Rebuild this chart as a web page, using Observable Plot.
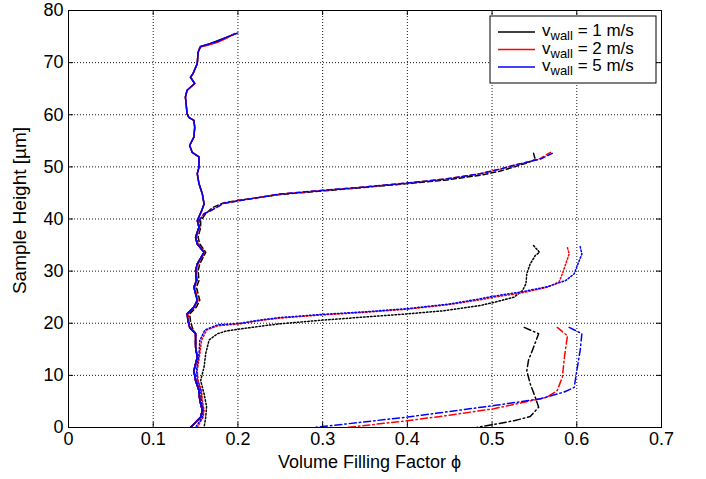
<!DOCTYPE html>
<html><head><meta charset="utf-8">
<script src="https://cdn.jsdelivr.net/npm/d3@7"></script>
<script src="https://cdn.jsdelivr.net/npm/@observablehq/plot@0.6"></script>
<style>
body{margin:0;background:#fff;}
#chart{width:706px;height:479px;}
</style></head><body><div id="chart"></div>
<script>
const xTicks = [0, 0.1, 0.2, 0.3, 0.4, 0.5, 0.6, 0.7];
const yTicks = [0, 10, 20, 30, 40, 50, 60, 70, 80];
const speeds = ["1", "2", "5"];
const colors = ["#000000", "#ff0000", "#0000ff"];

// shared loose column (phi, height)
const looseColumn = [[0.144,0],[0.156,2.0],[0.158,3.3],[0.155,5.2],[0.154,7.1],[0.150,9.0],[0.148,10.9],[0.152,13.5],[0.150,15.4],[0.150,18.0],[0.143,19.2],[0.141,20.5],[0.140,21.8],[0.148,23.1],[0.152,24.4],[0.148,26.9],[0.151,28.2],[0.150,30.1],[0.152,31.4],[0.160,33.6],[0.152,35.2],[0.150,36.5],[0.154,38.4],[0.152,39.7],[0.157,41.5],[0.160,42.9],[0.158,44.8],[0.154,46.8],[0.152,48.7],[0.154,49.9],[0.154,51.9],[0.146,52.8],[0.143,54.1],[0.148,55.7],[0.149,57.6],[0.148,58.9],[0.142,59.5],[0.140,60.2],[0.138,63.4],[0.140,64.7],[0.149,66.0],[0.144,67.2],[0.147,67.9],[0.152,69.8],[0.153,72.0]];

// solid (final state) tops
const solidTopBlack = [[0.156,73.1],[0.166,73.6],[0.176,74.2],[0.187,74.9],[0.198,75.6]];
const solidTopRed = [[0.155,73.0],[0.166,73.4],[0.176,73.9],[0.187,74.7],[0.196,75.6]];
const solidTopBlue = [[0.156,73.1],[0.166,73.6],[0.176,74.1],[0.187,74.9],[0.200,75.7]];

// dashed: top and transition
const dashedBlack = [[0.549,52.6],[0.551,51.4],[0.540,50.7],[0.526,50.0],[0.510,49.2],[0.486,48.4],[0.447,47.5],[0.400,46.8],[0.353,46.1],[0.301,45.4],[0.250,44.7],[0.201,43.6],[0.183,43.1],[0.170,42.2],[0.162,41.0],[0.156,39.7],[0.156,38.4],[0.153,36.5],[0.155,35.2],[0.162,33.6],[0.155,31.4],[0.153,30.1],[0.154,28.2],[0.151,26.9],[0.155,24.4],[0.151,23.1],[0.143,21.8],[0.144,20.5],[0.146,19.2]];
const dashedRed = [[0.569,52.8],[0.557,51.6],[0.541,50.9],[0.526,50.3],[0.510,49.6],[0.486,48.7],[0.447,47.7],[0.400,46.9],[0.353,46.2],[0.301,45.5],[0.250,44.8],[0.201,43.5],[0.183,43.0],[0.168,41.6],[0.160,41.0],[0.154,39.7],[0.155,38.4],[0.151,36.5],[0.153,35.2],[0.161,33.6],[0.153,31.4],[0.151,30.1],[0.152,28.2],[0.149,26.9],[0.153,24.4],[0.149,23.1],[0.141,21.8],[0.142,20.5],[0.144,19.2]];
const dashedBlue = [[0.571,52.6],[0.557,51.5],[0.541,50.9],[0.526,50.3],[0.510,49.6],[0.486,48.7],[0.447,47.7],[0.400,46.9],[0.353,46.2],[0.301,45.5],[0.250,44.8],[0.201,43.5],[0.183,43.0],[0.168,41.6],[0.160,41.0],[0.154,39.7],[0.154,38.4],[0.150,36.5],[0.152,35.2],[0.160,33.6],[0.152,31.4],[0.150,30.1],[0.151,28.2],[0.148,26.9],[0.152,24.4],[0.148,23.1],[0.140,21.8],[0.141,20.5],[0.143,19.2]];

// dotted
const dottedBlack = [[0.549,34.9],[0.556,33.6],[0.551,33.0],[0.545,31.4],[0.541,29.5],[0.540,27.6],[0.536,26.3],[0.526,25.0],[0.502,24.0],[0.486,23.4],[0.443,22.4],[0.400,21.8],[0.350,21.2],[0.300,20.6],[0.250,19.9],[0.225,19.4],[0.203,18.9],[0.186,18.5],[0.176,18.0],[0.166,16.8],[0.162,14.2],[0.160,11.6],[0.156,9.0],[0.160,6.5],[0.163,4.0],[0.162,2.0],[0.160,0]];
const dottedRed = [[0.589,34.5],[0.591,33.3],[0.587,31.4],[0.583,29.5],[0.579,27.9],[0.565,26.9],[0.534,25.8],[0.502,25.0],[0.486,24.5],[0.450,23.6],[0.400,22.7],[0.350,22.1],[0.300,21.6],[0.250,21.0],[0.225,20.5],[0.203,19.9],[0.176,19.5],[0.163,18.7],[0.157,16.7],[0.155,14.1],[0.152,11.0],[0.153,9.0],[0.157,7.1],[0.158,5.2],[0.160,3.3],[0.159,2.0],[0.152,0]];
const dottedBlue = [[0.604,34.7],[0.606,33.3],[0.600,30.8],[0.597,29.5],[0.587,28.2],[0.565,27.0],[0.534,26.0],[0.502,25.2],[0.486,24.7],[0.450,23.7],[0.400,22.8],[0.350,22.2],[0.300,21.7],[0.250,21.1],[0.225,20.6],[0.203,20.0],[0.176,19.7],[0.161,18.7],[0.155,16.7],[0.154,14.1],[0.151,11.0],[0.152,9.0],[0.156,7.1],[0.157,5.2],[0.159,3.3],[0.158,2.0],[0.150,0]];

// dash-dot (initial state)
const dashDotBlack = [[0.538,19.2],[0.555,18.0],[0.549,15.4],[0.543,12.9],[0.541,10.9],[0.545,8.4],[0.551,5.8],[0.555,3.9],[0.545,2.1],[0.526,1.3],[0.502,0.6],[0.482,0]];
const dashDotRed = [[0.577,19.2],[0.589,17.6],[0.587,15.4],[0.585,12.9],[0.583,9.7],[0.577,7.1],[0.565,5.8],[0.502,3.6],[0.447,2.3],[0.400,1.3],[0.329,0]];
const dashDotBlue = [[0.591,19.2],[0.606,18.0],[0.604,14.8],[0.600,10.9],[0.597,7.7],[0.585,6.8],[0.557,5.5],[0.502,4.2],[0.400,2.0],[0.329,0.7],[0.290,0]];

const W = 706, H = 479, mL = 68, mR = 45, mT = 10, mB = 52;
const plotW = W - mL - mR, plotH = H - mT - mB;

const lowerLoose = looseColumn.filter(p => p[1] < 19.2).reverse();
const groups = [
  {dash: "7,3,1.5,3", sets: [dashDotBlack, dashDotRed, dashDotBlue]},
  {dash: "1.5,2", sets: [dottedBlack, dottedRed, dottedBlue]},
  {dash: "5,3", sets: [dashedBlack.concat(lowerLoose), dashedRed.concat(lowerLoose), dashedBlue.concat(lowerLoose)]},
  {dash: null, sets: [looseColumn.concat(solidTopBlack), looseColumn.concat(solidTopRed), looseColumn.concat(solidTopBlue)]}
];

const lineMarks = [];
for (const g of groups) {
  g.sets.forEach((pts, i) => {
    lineMarks.push(Plot.line(pts, {x: d => d[0], y: d => d[1], stroke: colors[i], strokeWidth: 1.5,
      strokeDasharray: g.dash || undefined, clip: true, curve: "linear"}));
  });
}

const chart = Plot.plot({
  width: W, height: H,
  marginLeft: mL, marginRight: mR, marginTop: mT, marginBottom: mB,
  style: {fontFamily: "'Liberation Sans', Arial, sans-serif", fontSize: "18px", background: "#fff", color: "#000"},
  x: {domain: [0, 0.7]},
  y: {domain: [0, 80]},
  marks: [
    Plot.gridX(xTicks.slice(1, -1), {stroke: "#000", strokeOpacity: 1, strokeDasharray: "1,2", strokeWidth: 0.9}),
    Plot.gridY(yTicks.slice(1, -1), {stroke: "#000", strokeOpacity: 1, strokeDasharray: "1,2", strokeWidth: 0.9}),
    ...lineMarks,
    Plot.ruleX(xTicks, {x: d => d, insetTop: plotH - 5, stroke: "#000"}),
    Plot.ruleX(xTicks, {x: d => d, insetBottom: plotH - 5, stroke: "#000"}),
    Plot.ruleY(yTicks, {y: d => d, insetRight: plotW - 5, stroke: "#000"}),
    Plot.ruleY(yTicks, {y: d => d, insetLeft: plotW - 5, stroke: "#000"}),
    Plot.frame({stroke: "#000", strokeWidth: 1}),
    Plot.axisX(xTicks, {tickSize: 0, tickPadding: 5, tickFormat: d => String(d), label: null}),
    Plot.axisY(yTicks, {tickSize: 0, tickPadding: 5, tickFormat: d => String(d), label: null})
  ]
});
document.getElementById("chart").appendChild(chart);

const svg = d3.select(chart);
svg.selectAll('g[aria-label$="tick label"]').attr("font-size", 18).style("font-size", "18px");
svg.append("text").attr("x", mL + plotW / 2 + 5).attr("y", 468).attr("text-anchor", "middle")
  .attr("font-size", 18).attr("fill", "#000").text("Volume Filling Factor \u03d5");
svg.append("text").attr("transform", `translate(26,${mT + plotH / 2 - 8}) rotate(-90)`).attr("text-anchor", "middle")
  .attr("font-size", 19).attr("fill", "#000").text("Sample Height [\u00b5m]");

const leg = svg.append("g");
leg.append("rect").attr("x", 490).attr("y", 16).attr("width", 166).attr("height", 67)
  .attr("fill", "#fff").attr("stroke", "#000").attr("stroke-width", 1);
speeds.forEach((s, i) => {
  const y = 32 + i * 17.5;
  leg.append("line").attr("x1", 498).attr("x2", 535).attr("y1", y).attr("y2", y)
    .attr("stroke", colors[i]).attr("stroke-width", 1.5);
  const t = leg.append("text").attr("x", 542).attr("y", y + 4).attr("font-size", 17)
    .attr("text-anchor", "start").attr("fill", "#000");
  t.append("tspan").text("v");
  t.append("tspan").attr("dy", 4).attr("font-size", 13).text("wall");
  t.append("tspan").attr("dy", -4).text(` = ${s} m/s`);
});
</script></body></html>
